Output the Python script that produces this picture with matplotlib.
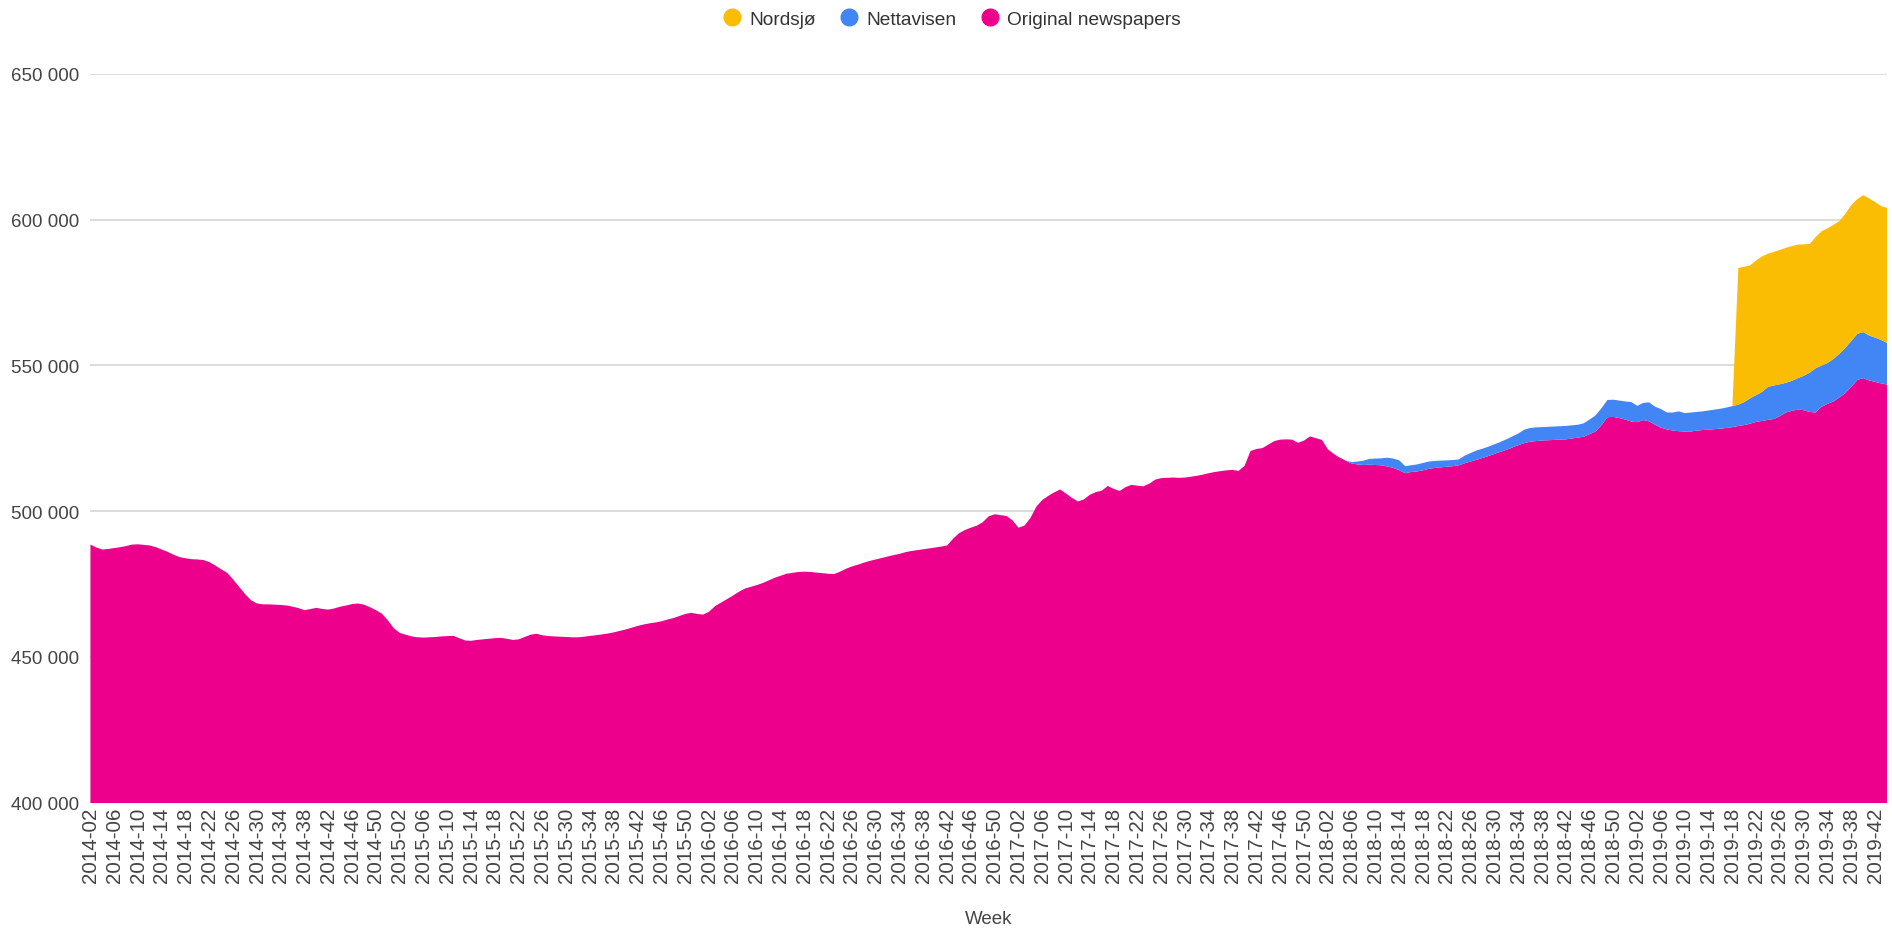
import matplotlib.pyplot as plt
import numpy as np
from matplotlib.lines import Line2D
from matplotlib.ticker import FuncFormatter

plt.rcParams['font.family'] = ['Liberation Sans', 'DejaVu Sans']

#Week labels, 52 weeks per year, first week 2014-02 and last week 2019-44
weeks = []
for year in range(2014, 2020):
    for w in range(1, 53):
        weeks.append('%d-%02d' % (year, w))
weeks = weeks[weeks.index('2014-02'):weeks.index('2019-44') + 1]

#Circulation, thousands per week
original = [
    488.5, 487.5, 486.8, 487.0, 487.3, 487.6, 488.0, 488.5, 488.6, 488.4,
    488.2, 487.6, 486.8, 486.0, 485.0, 484.2, 483.8, 483.5, 483.4, 483.2,
    482.5, 481.3, 480.0, 478.8, 476.5, 474.0, 471.5, 469.4, 468.3, 468.0,
    468.0, 467.9, 467.8, 467.6, 467.2, 466.7, 466.0, 466.4, 466.8, 466.4,
    466.2, 466.6, 467.2, 467.6, 468.1, 468.3, 467.9, 467.0, 466.0, 464.8,
    462.5, 459.8, 458.2, 457.6, 457.0, 456.7, 456.6, 456.7, 456.8, 457.0,
    457.1, 457.2, 456.4, 455.6, 455.5, 455.8, 456.0, 456.2, 456.4, 456.5,
    456.2, 455.8, 456.0, 456.8, 457.6, 457.9, 457.4, 457.1, 457.0, 456.9,
    456.8, 456.7, 456.7, 456.9, 457.2, 457.4, 457.7, 458.0, 458.4, 458.9,
    459.4, 460.0, 460.6, 461.1, 461.5, 461.8, 462.2, 462.8, 463.3, 464.0,
    464.7, 465.1, 464.7, 464.5, 465.5, 467.4, 468.6, 469.8, 471.0, 472.3,
    473.4, 474.0, 474.6, 475.3, 476.2, 477.1, 477.8, 478.5, 478.8, 479.1,
    479.2, 479.1, 478.9, 478.7, 478.5, 478.4, 479.2, 480.2, 481.0, 481.6,
    482.3, 482.9, 483.4, 483.9, 484.4, 484.9, 485.3, 485.9, 486.3, 486.6,
    486.9, 487.2, 487.5, 487.8, 488.2, 490.5, 492.4, 493.5, 494.3, 495.0,
    496.2, 498.2, 498.9, 498.6, 498.3, 496.8, 494.3, 495.0, 497.6, 501.5,
    503.8, 505.2, 506.4, 507.4, 506.0, 504.5, 503.3, 504.0, 505.6, 506.5,
    507.0, 508.6, 507.6, 506.9, 508.2, 509.0, 508.7, 508.5, 509.4, 510.8,
    511.3, 511.4, 511.5, 511.4, 511.5, 511.8, 512.1, 512.5, 513.0, 513.4,
    513.7, 514.0, 514.1, 513.8, 515.5, 520.6, 521.3, 521.6, 522.8, 524.0,
    524.5, 524.6, 524.5, 523.4, 524.2, 525.6, 525.0, 524.4, 521.2, 519.6,
    518.3, 517.3, 516.3, 516.0, 515.8, 515.9, 515.8, 515.7, 515.3, 514.8,
    514.0, 513.0, 513.4, 513.6, 514.0, 514.5, 514.8, 515.0, 515.2, 515.4,
    515.7, 516.4, 517.0, 517.6, 518.2, 518.9, 519.6, 520.3, 521.0, 521.8,
    522.6, 523.3, 523.8, 524.0, 524.2, 524.3, 524.4, 524.5, 524.6, 524.9,
    525.2, 525.5, 526.4, 527.3, 529.5, 532.2, 532.3, 531.9, 531.4, 530.7,
    530.5, 531.2, 530.8, 529.6, 528.6, 528.0, 527.6, 527.4, 527.3, 527.3,
    527.6, 527.8, 527.9, 528.1, 528.3, 528.5, 528.8, 529.2, 529.5, 530.0,
    530.6, 530.9, 531.3, 531.6, 532.6, 533.8, 534.4, 534.8, 534.6, 534.0,
    533.8, 535.8, 536.8, 537.6, 539.0, 540.5, 542.6, 545.0, 545.6, 544.8,
    544.3, 543.8, 543.4,
]

#Nettavisen is counted from 2018-06
nettavisen_start = '2018-06'
nettavisen = [
    0.5, 1.0, 1.5, 2.0, 2.2, 2.4, 3.0, 3.2, 3.4, 2.4,
    2.3, 2.4, 2.5, 2.5, 2.4, 2.3, 2.2, 2.1, 2.0, 2.6,
    2.9, 3.2, 3.2, 3.2, 3.3, 3.4, 3.6, 3.8, 4.0, 4.6,
    4.7, 4.7, 4.6, 4.6, 4.6, 4.6, 4.6, 4.5, 4.4, 4.6,
    5.0, 5.5, 5.8, 5.9, 5.9, 6.0, 6.2, 6.7, 5.6, 5.9,
    6.5, 6.2, 6.4, 5.8, 6.2, 6.8, 6.3, 6.5, 6.4, 6.4,
    6.6, 6.7, 6.8, 7.0, 7.2, 7.3, 7.9, 8.7, 9.2, 10.0,
    11.3, 11.5, 10.9, 10.2, 10.3, 10.8, 11.8, 13.5, 15.2, 14.1,
    14.0, 14.6, 15.0, 15.5, 15.8, 15.8, 15.8, 15.4, 15.2, 14.9,
    14.3,
]

#Nordsjø is counted from 2019-19
nordsjo_start = '2019-19'
nordsjo = [
    46.9, 46.4, 45.6, 46.2, 46.5, 45.7, 45.8, 46.1, 46.3, 46.2,
    45.8, 45.1, 44.1, 45.0, 46.1, 46.2, 46.0, 45.5, 46.0, 46.6,
    46.2, 47.0, 47.0, 46.5, 45.9, 46.3,
]

series_names = ['Nordsjø', 'Nettavisen', 'Original newspapers']
colors = {'Nordsjø': '#FBBC04', 'Nettavisen': '#4285F4', 'Original newspapers': '#EC008C'}


def padded(values, start):
    #Weeks before the start label have no circulation
    out = np.zeros(len(weeks))
    i0 = weeks.index(start)
    out[i0:i0 + len(values)] = values
    return out * 1000


def main():
    x = np.arange(len(weeks))
    y_orig = np.array(original) * 1000
    y_nett = padded(nettavisen, nettavisen_start)
    y_nord = padded(nordsjo, nordsjo_start)

    fig = plt.figure(figsize=(18.92, 9.29), dpi=100)
    ax = fig.add_axes([0.0478, 0.135, 0.9496, 0.7845])

    ax.stackplot(x, y_orig, y_nett, y_nord,
                 colors=[colors['Original newspapers'], colors['Nettavisen'], colors['Nordsjø']],
                 linewidth=0, zorder=2)

    ax.set_xlim(0, len(weeks) - 1)
    ax.set_ylim(400000, 650000)
    ax.set_yticks(np.arange(400000, 650001, 50000))
    ax.yaxis.set_major_formatter(FuncFormatter(lambda v, p: '{:,}'.format(int(v)).replace(',', ' ')))
    ax.grid(axis='y', color='#d9d9d9', linewidth=1.3, zorder=0)
    ax.set_axisbelow(True)

    ax.set_xticks(x[::4])
    ax.set_xticklabels(weeks[::4], rotation=90)
    ax.tick_params(axis='both', length=0, colors='#444444')
    ax.tick_params(axis='y', pad=8, labelsize=13.5)
    ax.tick_params(axis='x', pad=3, labelsize=14.8)

    for s in ax.spines.values():
        s.set_visible(False)

    ax.set_xlabel('Week', fontsize=13.5, color='#444444', labelpad=20)

    handles = [Line2D([], [], marker='o', linestyle='none', markersize=12,
                      markerfacecolor=colors[n], markeredgecolor=colors[n]) for n in series_names]
    fig.legend(handles, series_names, loc='center', bbox_to_anchor=(0.503, 0.978), ncol=3,
               frameon=False, fontsize=13.8, handlelength=1.0, handletextpad=0.4,
               columnspacing=1.25, labelcolor='#333333')

    plt.savefig('out.png', dpi=100)


if __name__ == "__main__":
    main()
